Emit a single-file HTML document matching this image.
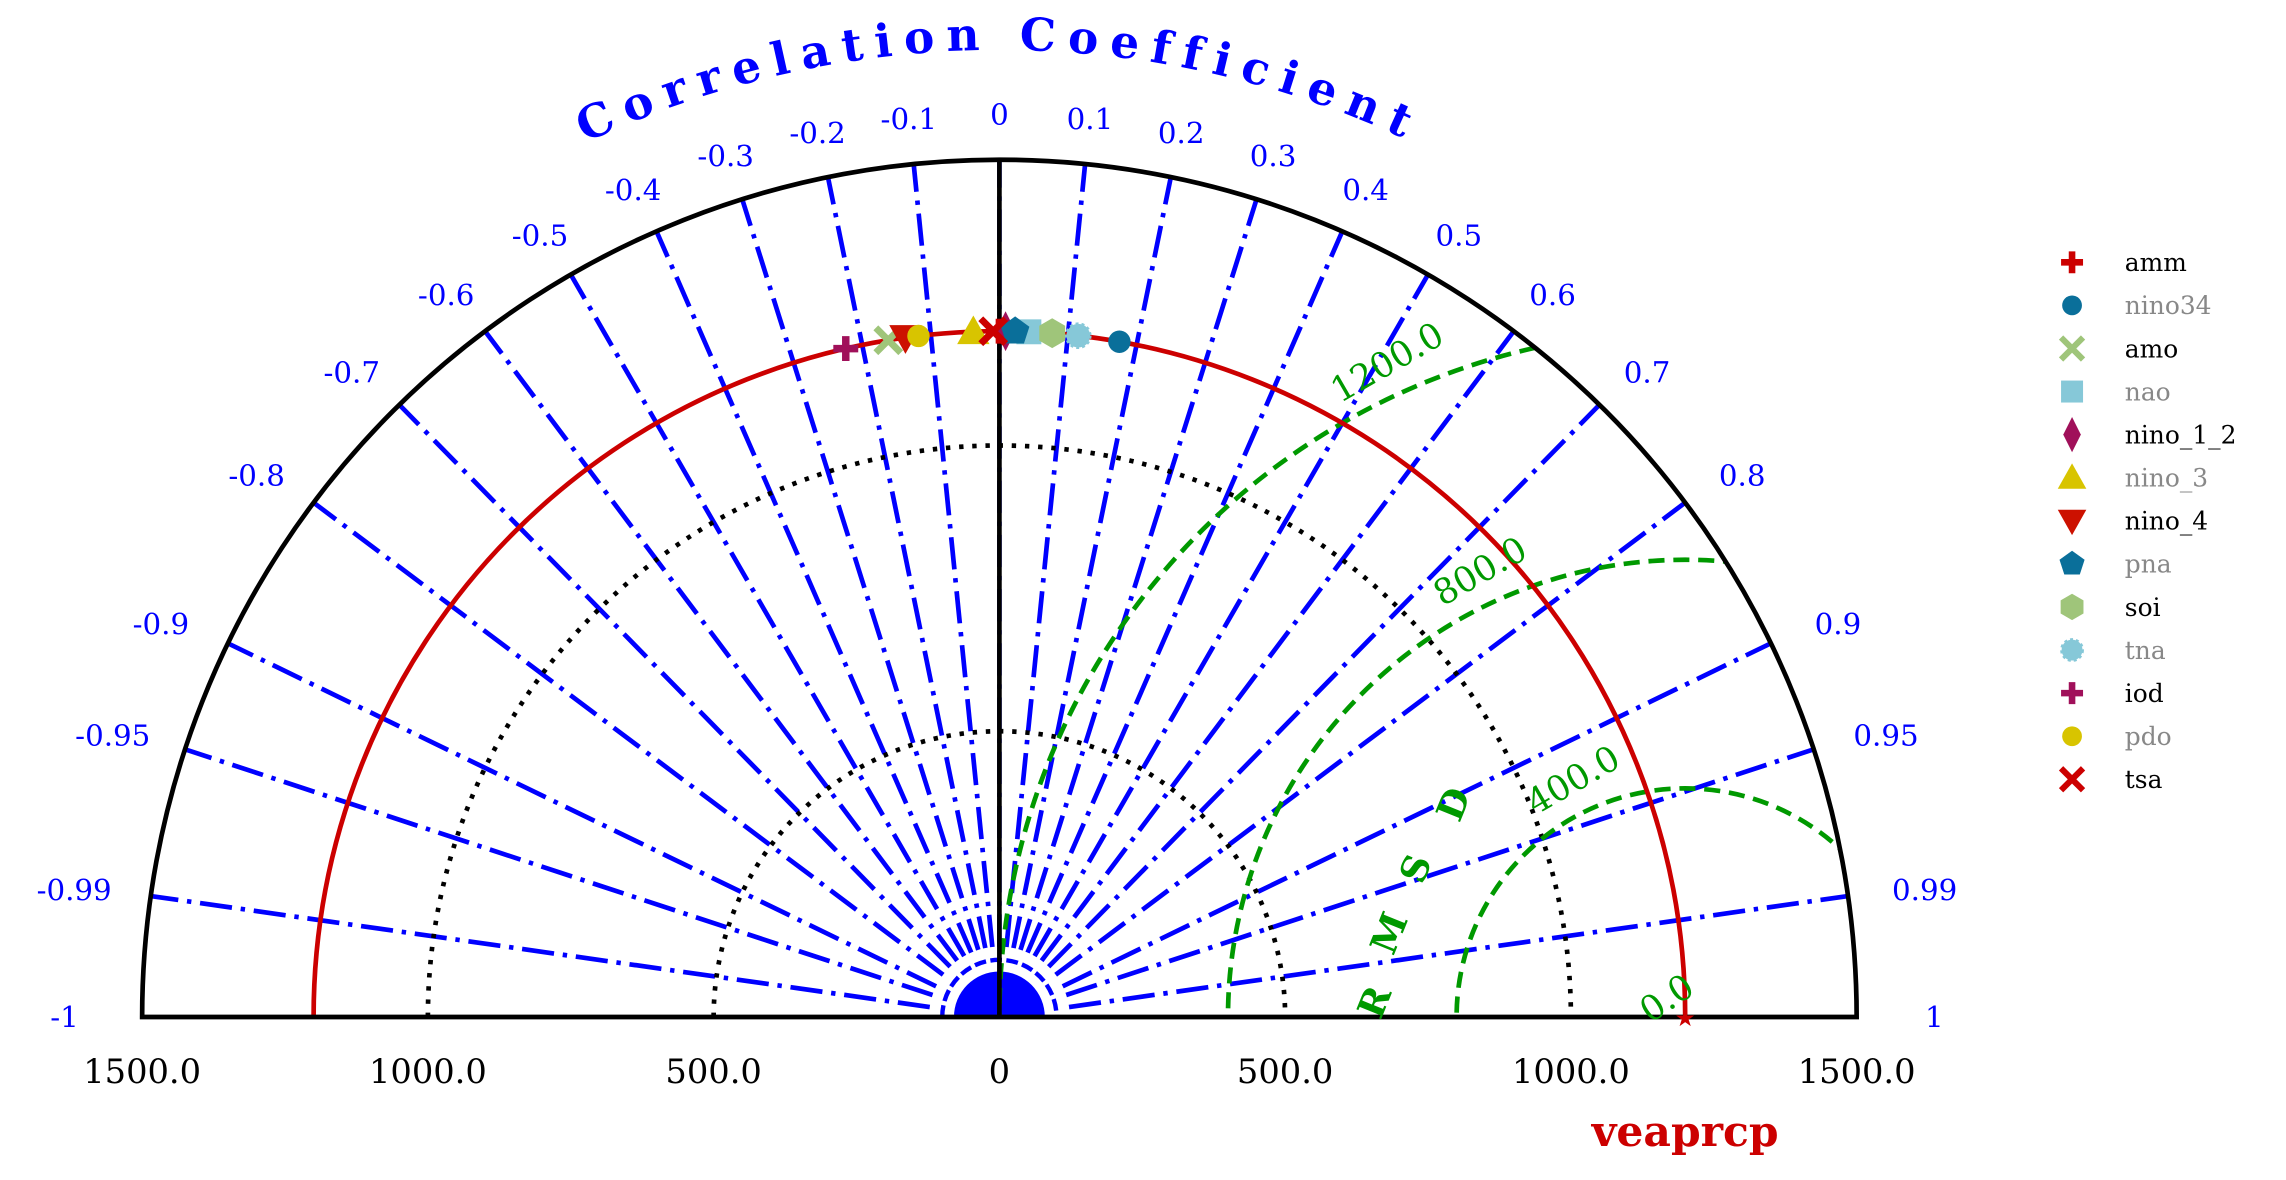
<!DOCTYPE html>
<html><head><meta charset="utf-8"><style>
html,body{margin:0;padding:0;background:#fff;overflow:hidden;width:2286px;height:1180px;position:relative;}
svg{display:block;position:absolute;left:0;top:0;font-family:"DejaVu Serif","Liberation Serif",serif;}
</style></head><body>
<svg id="chart" width="2286" height="1180" viewBox="0 0 1560 805.25" xmlns="http://www.w3.org/2000/svg">
<defs>
<clipPath id="semi"><path d="M97,694 A585,585 0 0 1 1267,694 Z"/></clipPath>
<path id="titlearc" d="M22,694 A660,660 0 0 1 1342,694"/>
</defs>
<g id="g"></g>
</svg>
<script>
// data
const corrTicks = [-1,-0.99,-0.95,-0.9,-0.8,-0.7,-0.6,-0.5,-0.4,-0.3,-0.2,-0.1,0,0.1,0.2,0.3,0.4,0.5,0.6,0.7,0.8,0.9,0.95,0.99,1];
const corrLabels = ["-1","-0.99","-0.95","-0.9","-0.8","-0.7","-0.6","-0.5","-0.4","-0.3","-0.2","-0.1","0","0.1","0.2","0.3","0.4","0.5","0.6","0.7","0.8","0.9","0.95","0.99","1"];
const stdTicks = [-1500,-1000,-500,0,500,1000,1500];
const stdLabels = ["1500.0","1000.0","500.0","0","500.0","1000.0","1500.0"];
const dottedStd = [500,1000];
const refStd = 1200;
const rmsdLevels = [400,800,1200];
const rmsdLabels = ["400.0","800.0","1200.0"];
const names = ["amm","nino34","amo","nao","nino_1_2","nino_3","nino_4","pna","soi","tna","iod","pdo","tsa"];
const corrs = [0.0,0.175,-0.162,0.043,0.009,-0.038,-0.137,0.023,0.077,0.115,-0.224,-0.118,-0.009];
const stds = [1200,1200,1200,1200,1200,1200,1200,1200,1200,1200,1200,1200,1200];
const colors = ["#cc0000","#0a6f9a","#9fc57a","#86c8d8","#a0105a","#d8c400","#cc1100","#0a6f9a","#9fc57a","#86c8d8","#a0105a","#d8c400","#cc0000"];
const shapes = ["plus","circle","x","square","diamond","tri","tridown","pent","hex","star","plus","circle","x"];

const NS="http://www.w3.org/2000/svg";
const g=document.getElementById('g');
const CX=682, CY=694, MAXS=1500, R=585;
const sc=v=>v/MAXS*R;
function pt(s,r){const th=Math.acos(Math.max(-1,Math.min(1,r)));return [CX+sc(s)*Math.cos(th),CY-sc(s)*Math.sin(th)];}
function el(tag,attrs,parent){const e=document.createElementNS(NS,tag);for(const k in attrs)e.setAttribute(k,attrs[k]);(parent||g).appendChild(e);return e;}

let c1=el('path',{d:`M${CX-31},${CY} A31,31 0 0 1 ${CX+31},${CY} Z`,fill:'#0000ff'});


let c2=el('path',{d:`M${CX-39},${CY} A39,39 0 0 1 ${CX+39},${CY}`,fill:'none',stroke:'#0000ff','stroke-width':3,'stroke-dasharray':'8 3'});



corrTicks.forEach((r,i)=>{
  if(Math.abs(r)===1)return;
  const a=pt(48*MAXS/R,r), b=pt(MAXS,r);
  const l=el('line',{x1:a[0],y1:a[1],x2:b[0],y2:b[1],stroke:'#0000ff','stroke-width':3.2,'stroke-dasharray':'22 6 3 6'});
  
  
});
dottedStd.forEach(s=>{
  const r=sc(s);
  const p=el('path',{d:`M${CX-r},${CY} A${r},${r} 0 0 1 ${CX+r},${CY}`,fill:'none',stroke:'#000','stroke-width':3.2,'stroke-dasharray':'3 6'});
  
  
});
const rg=el('g',{'clip-path':'url(#semi)'});
const refx=CX+sc(refStd);
rmsdLevels.forEach(v=>{
  const c=el('circle',{cx:refx,cy:CY,r:sc(v),fill:'none',stroke:'#009900','stroke-width':3.2,'stroke-dasharray':'11 6'},rg);
  
  
});
{const r=sc(refStd);
const p=el('path',{d:`M${CX-r},${CY} A${r},${r} 0 0 1 ${CX+r},${CY}`,fill:'none',stroke:'#cc0000','stroke-width':3.2});

}
{const p=el('path',{d:`M${CX-R},${CY} A${R},${R} 0 0 1 ${CX+R},${CY} Z`,fill:'none',stroke:'#000','stroke-width':3.2});


const v=el('line',{x1:CX,y1:CY,x2:CX,y2:CY-R,stroke:'#000','stroke-width':3.2});

}

corrTicks.forEach((r,i)=>{
  const th=Math.acos(r);const rr=616;
  const x=CX+rr*Math.cos(th)+ 22*Math.cos(th)*Math.abs(Math.cos(th)), y=CY-rr*Math.sin(th)+7;
  const t=el('text',{x:x,y:y,'text-anchor':'middle','font-size':20,fill:'#0000ff'});
  t.textContent=corrLabels[i];
  
  
});
stdTicks.forEach((s,i)=>{
  const t=el('text',{x:CX+sc(s),y:739,'text-anchor':'middle','font-size':23,fill:'#000'});
  t.textContent=stdLabels[i];
  
  
});
rmsdLevels.forEach((v,i)=>{
  const th=114*Math.PI/180; const rr=sc(v)+22;
  const x=refx+rr*Math.cos(th), y=CY-rr*Math.sin(th)+8;
  const t=el('text',{x:x,y:y,'text-anchor':'middle','font-size':24,fill:'#009900',transform:`rotate(-30 ${x} ${y})`});
  t.textContent=rmsdLabels[i];
  
  
});
{const t=el('text',{x:1142,y:688,'text-anchor':'middle','font-size':24,fill:'#009900',transform:'rotate(-34 1142 688)'});t.textContent='0.0';
}
[['R',946,687],['M',956,640],['S',974,596],['D',1000,552]].forEach(a=>{
  const t=el('text',{x:a[1],y:a[2],'text-anchor':'middle','font-size':25,'font-weight':'bold',fill:'#009900',transform:`rotate(-68 ${a[1]} ${a[2]})`});
  t.textContent=a[0];
  
  
});
{const t=el('text',{'font-size':31,'font-weight':'bold',fill:'#0000ff','letter-spacing':'8'});
const tp=el('textPath',{href:'#titlearc',startOffset:'50%','text-anchor':'middle'},t);
tp.textContent='Correlation Coefficient';
}
{const t=el('text',{x:1150,y:782,'text-anchor':'middle','font-size':29,'font-weight':'bold',fill:'#cc0000'});t.textContent='veaprcp';
}
{const s=el('text',{x:refx,y:CY+6,'text-anchor':'middle','font-size':16,fill:'#cc0000'});s.textContent='★';
}

function marker(shape,x,y,col,sz,parent){
  const k=sz;let e;
  switch(shape){
    case 'plus': e=el('path',{d:`M${x-k*0.3},${y-k} h${k*0.6} v${k*0.7} h${k*0.7} v${k*0.6} h${-k*0.7} v${k*0.7} h${-k*0.6} v${-k*0.7} h${-k*0.7} v${-k*0.6} h${k*0.7} z`,fill:col},parent);break;
    case 'circle': e=el('circle',{cx:x,cy:y,r:k*0.9,fill:col},parent);break;
    case 'x': e=el('path',{d:`M${x-k},${y-k} L${x+k},${y+k} M${x+k},${y-k} L${x-k},${y+k}`,stroke:col,'stroke-width':k*0.55,fill:'none'},parent);break;
    case 'square': e=el('rect',{x:x-k,y:y-k,width:2*k,height:2*k,fill:col},parent);break;
    case 'diamond': e=el('path',{d:`M${x},${y-k*1.6} L${x+k*0.8},${y} L${x},${y+k*1.6} L${x-k*0.8},${y} Z`,fill:col},parent);break;
    case 'tri': e=el('path',{d:`M${x},${y-k*1.3} L${x+k*1.3},${y+k} L${x-k*1.3},${y+k} Z`,fill:col},parent);break;
    case 'tridown': e=el('path',{d:`M${x},${y+k*1.3} L${x+k*1.3},${y-k} L${x-k*1.3},${y-k} Z`,fill:col},parent);break;
    case 'pent': {let d='';for(let i=0;i<5;i++){const a=-Math.PI/2+i*2*Math.PI/5;d+=(i?'L':'M')+(x+k*1.2*Math.cos(a))+','+(y+k*1.2*Math.sin(a));}e=el('path',{d:d+'Z',fill:col},parent);break;}
    case 'hex': {let d='';for(let i=0;i<6;i++){const a=-Math.PI/2+i*Math.PI/3;d+=(i?'L':'M')+(x+k*1.2*Math.cos(a))+','+(y+k*1.2*Math.sin(a));}e=el('path',{d:d+'Z',fill:col},parent);break;}
    case 'star': e=el('circle',{cx:x,cy:y,r:k*0.95,fill:col,stroke:col,'stroke-width':2,'stroke-dasharray':'2 2'},parent);break;
  }
  return e;
}
names.forEach((n,i)=>{
  const p=pt(stds[i],corrs[i]);
  const m=marker(shapes[i],p[0],p[1],colors[i],8.5);
  
  
});
names.forEach((n,i)=>{
  const y=179+i*29.4;
  const lg=el('g',{});
  
  
  marker(shapes[i],1414,y,colors[i],7.5,lg);
  const t=el('text',{x:1450,y:y+6,'font-size':17,fill:(i%2? '#888888':'#000')},lg);
  t.textContent=n;
});
</script>
</body></html>
